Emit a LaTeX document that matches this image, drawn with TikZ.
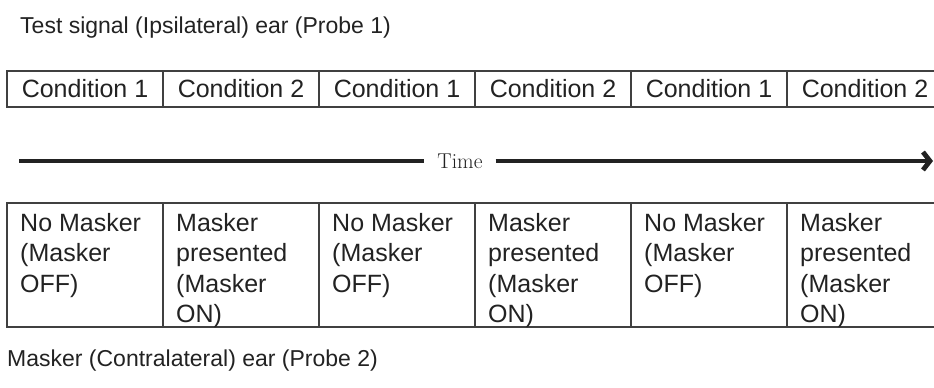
\documentclass[tikz,border=0pt]{standalone}
\usepackage{fontspec}
\newfontfamily\arial{Liberation Sans}
\usetikzlibrary{positioning,arrows.meta}
\definecolor{lineGray}{HTML}{404040}
\definecolor{textGray}{HTML}{222222}
\begin{document}
\begin{tikzpicture}[x=1pt, y=-1pt,
    cond/.style={draw=lineGray, line width=1.6pt, outer sep=0pt, inner sep=0pt,
      minimum width=156pt, minimum height=36pt, text=textGray,
      font=\arial\fontsize{25}{30.5}\selectfont},
    masker/.style={cond, minimum height=124pt},
    maskertext/.style={align=left, inner sep=0pt, text=textGray,
      font=\arial\fontsize{25}{30.5}\selectfont},
    title/.style={anchor=base west, inner sep=0pt, text=textGray,
      font=\arial\fontsize{23}{28}\selectfont},
    timeline/.style={line width=4.8pt, draw=textGray}]
  \clip (0, 0) rectangle (934, 388);

  \node[title] (probe1) at (20, 33) {Test signal (Ipsilateral) ear (Probe 1)};

  % conditions of the test signal
  \node[cond, anchor=north west] (c1) at (7, 71) {Condition 1};
  \node[cond, right=0pt of c1] (c2) {Condition 2};
  \node[cond, right=0pt of c2] (c3) {Condition 1};
  \node[cond, right=0pt of c3] (c4) {Condition 2};
  \node[cond, right=0pt of c4] (c5) {Condition 1};
  \node[cond, right=0pt of c5] (c6) {Condition 2};

  % time axis
  \coordinate (start) at (19, 161);
  \coordinate (end) at (933, 161);
  \node[inner xsep=13pt, text=textGray, font=\fontsize{21.5}{26}\selectfont]
    (time) at (460, 161) {Time};
  \draw[timeline] (start) -- (time.west);
  \draw[timeline, -{Straight Barb[length=7pt, width=18pt]}] (time.east) -- (end);

  % masker states
  \node[masker, anchor=north west] (m1) at (7, 203) {};
  \node[masker, right=0pt of m1] (m2) {};
  \node[masker, right=0pt of m2] (m3) {};
  \node[masker, right=0pt of m3] (m4) {};
  \node[masker, right=0pt of m4] (m5) {};
  \node[masker, right=0pt of m5] (m6) {};

  \node[maskertext, below right=10pt and 13pt of m1.north west] {No Masker\\(Masker\\OFF)};
  \node[maskertext, below right=10pt and 13pt of m2.north west] {Masker\\presented\\(Masker\\ON)};
  \node[maskertext, below right=10pt and 13pt of m3.north west] {No Masker\\(Masker\\OFF)};
  \node[maskertext, below right=10pt and 13pt of m4.north west] {Masker\\presented\\(Masker\\ON)};
  \node[maskertext, below right=10pt and 13pt of m5.north west] {No Masker\\(Masker\\OFF)};
  \node[maskertext, below right=10pt and 13pt of m6.north west] {Masker\\presented\\(Masker\\ON)};

  \node[title] (probe2) at (7, 366) {Masker (Contralateral) ear (Probe 2)};
\end{tikzpicture}
\end{document}
